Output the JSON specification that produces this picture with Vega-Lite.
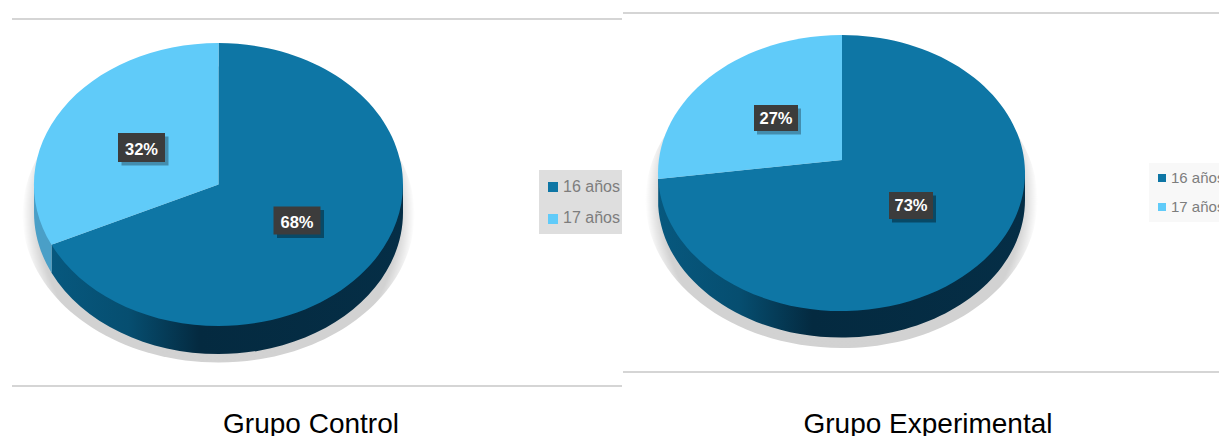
{
  "$schema": "https://vega.github.io/schema/vega-lite/v6.json",
  "width": 1219,
  "height": 436,
  "autosize": {"type": "fit", "contains": "padding"},
  "padding": 0,
  "background": "#ffffff",
  "view": {"stroke": null},
  "data": {"values": [
    {"grupo": "Grupo Control", "edad": "16 años", "pct": 0.68},
    {"grupo": "Grupo Control", "edad": "17 años", "pct": 0.32},
    {"grupo": "Grupo Experimental", "edad": "16 años", "pct": 0.73},
    {"grupo": "Grupo Experimental", "edad": "17 años", "pct": 0.27}
  ]},
  "layer": [
    {"transform": [{"filter": "datum.edad === '16 años'"}],
     "mark": {"type": "point", "filled": false, "stroke": "#d5d5d5", "strokeWidth": 2, "opacity": 1, "size": 4},
     "encoding": {
       "x": {"field": "grupo", "type": "nominal", "axis": null, "scale": {"type": "point", "padding": 0, "range": [12, 623]}},
       "y": {"field": "grupo", "type": "nominal", "axis": null, "scale": {"type": "point", "padding": 0, "range": [19, 13]}},
       "shape": {"field": "grupo", "type": "nominal", "legend": null, "scale": {"range": ["M0,0H610", "M0,0H596"]}}
     }},
    {"transform": [{"filter": "datum.edad === '16 años'"}],
     "mark": {"type": "point", "filled": false, "stroke": "#d5d5d5", "strokeWidth": 2, "opacity": 1, "size": 4},
     "encoding": {
       "x": {"field": "grupo", "type": "nominal", "axis": null, "scale": {"type": "point", "padding": 0, "range": [12, 623]}},
       "y": {"field": "grupo", "type": "nominal", "axis": null, "scale": {"type": "point", "padding": 0, "range": [386, 372]}},
       "shape": {"field": "grupo", "type": "nominal", "legend": null, "scale": {"range": ["M0,0H610", "M0,0H596"]}}
     }},
    {"transform": [{"filter": "datum.edad === '16 años'"}],
     "mark": {"type": "point", "filled": true, "opacity": 1, "size": 4, "fill": {"gradient": "radial", "x1": 0.5, "y1": 0.5, "r1": 0, "x2": 0.5, "y2": 0.5, "r2": 0.5, "stops": [{"offset": 0, "color": "#cfcfcf"}, {"offset": 0.92, "color": "#d2d2d2"}, {"offset": 0.96, "color": "#e8e8e8"}, {"offset": 1, "color": "#ffffff"}]}},
     "encoding": {
       "x": {"field": "grupo", "type": "nominal", "axis": null, "scale": {"type": "point", "padding": 0, "range": [218.5, 841.5]}},
       "y": {"field": "grupo", "type": "nominal", "axis": null, "scale": {"type": "point", "padding": 0, "range": [184.5, 173]}},
       "shape": {"field": "grupo", "type": "nominal", "legend": null, "scale": {"range": [
         "M-196,30A196 148 0 1 0 196,30A196 148 0 1 0 -196,30Z",
         "M-196,27A196 148 0 1 0 196,27A196 148 0 1 0 -196,27Z"
       ]}}
     }},
    {"transform": [{"filter": "datum.edad === '16 años'"}],
     "mark": {"type": "point", "filled": true, "opacity": 1, "size": 4, "fill": {"gradient": "linear", "x1": 0, "y1": 0, "x2": 1, "y2": 0, "stops": [{"offset": 0, "color": "#07587e"}, {"offset": 0.22, "color": "#064e70"}, {"offset": 0.42, "color": "#042a40"}, {"offset": 1, "color": "#052e46"}]}},
     "encoding": {
       "x": {"field": "grupo", "type": "nominal", "axis": null, "scale": {"type": "point", "padding": 0, "range": [218.5, 841.5]}},
       "y": {"field": "grupo", "type": "nominal", "axis": null, "scale": {"type": "point", "padding": 0, "range": [184.5, 173]}},
       "shape": {"field": "grupo", "type": "nominal", "legend": null, "scale": {"range": [
         "M-167,60.2L-167,88.2A184.5 141.5 0 0 0 184.5,28L184.5,0Z",
         "M-183.3,6L-183.3,33A183.5 138 0 0 0 183.5,27L183.5,0Z"
       ]}}
     }},
    {"transform": [{"filter": "datum.edad === '17 años' && datum.grupo === 'Grupo Control'"}],
     "mark": {"type": "point", "filled": true, "opacity": 1, "size": 4, "fill": "#4a9fc7", "shape": "M-184.5,0L-184.5,28A184.5 141.5 0 0 0 -167,88.2L-167,60.2Z"},
     "encoding": {
       "x": {"field": "grupo", "type": "nominal", "axis": null, "scale": {"type": "point", "padding": 0, "range": [218.5, 218.5]}},
       "y": {"field": "grupo", "type": "nominal", "axis": null, "scale": {"type": "point", "padding": 0, "range": [184.5, 184.5]}}
     }},
    {"transform": [{"filter": "datum.edad === '16 años'"}],
     "mark": {"type": "point", "filled": true, "opacity": 1, "size": 4, "fill": "#0e76a5"},
     "encoding": {
       "x": {"field": "grupo", "type": "nominal", "axis": null, "scale": {"type": "point", "padding": 0, "range": [218.5, 841.5]}},
       "y": {"field": "grupo", "type": "nominal", "axis": null, "scale": {"type": "point", "padding": 0, "range": [184.5, 173]}},
       "shape": {"field": "grupo", "type": "nominal", "legend": null, "scale": {"range": [
         "M0,0L0,-141.5A184.5 141.5 0 1 1 -167,60.2Z",
         "M0.5,-13L0.5,-138A183.5 138 0 1 1 -183.3,6Z"
       ]}}
     }},
    {"transform": [{"filter": "datum.edad === '17 años'"}],
     "mark": {"type": "point", "filled": true, "opacity": 1, "size": 4, "fill": "#60cbf9"},
     "encoding": {
       "x": {"field": "grupo", "type": "nominal", "axis": null, "scale": {"type": "point", "padding": 0, "range": [218.5, 841.5]}},
       "y": {"field": "grupo", "type": "nominal", "axis": null, "scale": {"type": "point", "padding": 0, "range": [184.5, 173]}},
       "shape": {"field": "grupo", "type": "nominal", "legend": null, "scale": {"range": [
         "M0,0L-167,60.2A184.5 141.5 0 0 1 0,-141.5Z",
         "M0.5,-13L-183.3,6A183.5 138 0 0 1 0.5,-138Z"
       ]}}
     }},
    {"transform": [{"filter": "datum.edad === '16 años'"}],
     "mark": {"type": "point", "filled": true, "opacity": 0.38, "size": 4, "fill": "#000000"},
     "encoding": {
       "x": {"field": "grupo", "type": "nominal", "axis": null, "scale": {"type": "point", "padding": 0, "range": [300.5, 914]}},
       "y": {"field": "grupo", "type": "nominal", "axis": null, "scale": {"type": "point", "padding": 0, "range": [224, 209]}},
       "shape": {"field": "grupo", "type": "nominal", "legend": null, "scale": {"range": ["M-23.5,-14H23.5V14H-23.5Z", "M-22,-13.5H22V13.5H-22Z"]}}
     }},
    {"transform": [{"filter": "datum.edad === '17 años'"}],
     "mark": {"type": "point", "filled": true, "opacity": 0.3, "size": 4, "fill": "#000000"},
     "encoding": {
       "x": {"field": "grupo", "type": "nominal", "axis": null, "scale": {"type": "point", "padding": 0, "range": [145, 779]}},
       "y": {"field": "grupo", "type": "nominal", "axis": null, "scale": {"type": "point", "padding": 0, "range": [151, 121.5]}},
       "shape": {"field": "grupo", "type": "nominal", "legend": null, "scale": {"range": ["M-23.5,-14.5H23.5V14.5H-23.5Z", "M-22,-13H22V13H-22Z"]}}
     }},
    {"transform": [{"filter": "datum.edad === '16 años'"}],
     "mark": {"type": "point", "filled": true, "opacity": 1, "size": 4, "fill": "#3c3c3c"},
     "encoding": {
       "x": {"field": "grupo", "type": "nominal", "axis": null, "scale": {"type": "point", "padding": 0, "range": [297, 911]}},
       "y": {"field": "grupo", "type": "nominal", "axis": null, "scale": {"type": "point", "padding": 0, "range": [220.5, 205.5]}},
       "shape": {"field": "grupo", "type": "nominal", "legend": null, "scale": {"range": ["M-23.5,-14H23.5V14H-23.5Z", "M-22,-13.5H22V13.5H-22Z"]}}
     }},
    {"transform": [{"filter": "datum.edad === '17 años'"}],
     "mark": {"type": "point", "filled": true, "opacity": 1, "size": 4, "fill": "#3c3c3c"},
     "encoding": {
       "x": {"field": "grupo", "type": "nominal", "axis": null, "scale": {"type": "point", "padding": 0, "range": [141.5, 776]}},
       "y": {"field": "grupo", "type": "nominal", "axis": null, "scale": {"type": "point", "padding": 0, "range": [147.5, 118]}},
       "shape": {"field": "grupo", "type": "nominal", "legend": null, "scale": {"range": ["M-23.5,-14.5H23.5V14.5H-23.5Z", "M-22,-13H22V13H-22Z"]}}
     }},
    {"transform": [{"filter": "datum.edad === '16 años'"}],
     "mark": {"type": "text", "font": "Liberation Sans", "fontWeight": "bold", "fontSize": 16.5, "fill": "#ffffff", "baseline": "middle", "align": "center"},
     "encoding": {
       "x": {"field": "grupo", "type": "nominal", "axis": null, "scale": {"type": "point", "padding": 0, "range": [297, 911]}},
       "y": {"field": "grupo", "type": "nominal", "axis": null, "scale": {"type": "point", "padding": 0, "range": [223, 206]}},
       "text": {"field": "pct", "type": "quantitative", "format": ".0%"}
     }},
    {"transform": [{"filter": "datum.edad === '17 años'"}],
     "mark": {"type": "text", "font": "Liberation Sans", "fontWeight": "bold", "fontSize": 16.5, "fill": "#ffffff", "baseline": "middle", "align": "center"},
     "encoding": {
       "x": {"field": "grupo", "type": "nominal", "axis": null, "scale": {"type": "point", "padding": 0, "range": [141.5, 776]}},
       "y": {"field": "grupo", "type": "nominal", "axis": null, "scale": {"type": "point", "padding": 0, "range": [150, 119]}},
       "text": {"field": "pct", "type": "quantitative", "format": ".0%"}
     }},
    {"transform": [{"filter": "datum.edad === '16 años'"}],
     "mark": {"type": "point", "filled": true, "opacity": 1, "size": 4},
     "encoding": {
       "x": {"field": "grupo", "type": "nominal", "axis": null, "scale": {"type": "point", "padding": 0, "range": [539, 1149]}},
       "y": {"field": "grupo", "type": "nominal", "axis": null, "scale": {"type": "point", "padding": 0, "range": [170, 163]}},
       "shape": {"field": "grupo", "type": "nominal", "legend": null, "scale": {"range": ["M0,0H83V64H0Z", "M0,0H70V59H0Z"]}},
       "fill": {"field": "grupo", "type": "nominal", "legend": null, "scale": {"range": ["#dedede", "#f8f8f8"]}}
     }},
    {"transform": [{"filter": "datum.edad === '16 años'"}],
     "mark": {"type": "point", "filled": true, "opacity": 1, "size": 4, "fill": "#0e76a5"},
     "encoding": {
       "x": {"field": "grupo", "type": "nominal", "axis": null, "scale": {"type": "point", "padding": 0, "range": [553, 1162]}},
       "y": {"field": "grupo", "type": "nominal", "axis": null, "scale": {"type": "point", "padding": 0, "range": [187, 178]}},
       "shape": {"field": "grupo", "type": "nominal", "legend": null, "scale": {"range": ["M-5,-5H5V5H-5Z", "M-4,-4H4V4H-4Z"]}}
     }},
    {"transform": [{"filter": "datum.edad === '17 años'"}],
     "mark": {"type": "point", "filled": true, "opacity": 1, "size": 4, "fill": "#60cbf9"},
     "encoding": {
       "x": {"field": "grupo", "type": "nominal", "axis": null, "scale": {"type": "point", "padding": 0, "range": [553, 1162]}},
       "y": {"field": "grupo", "type": "nominal", "axis": null, "scale": {"type": "point", "padding": 0, "range": [219, 207]}},
       "shape": {"field": "grupo", "type": "nominal", "legend": null, "scale": {"range": ["M-5,-5H5V5H-5Z", "M-4,-4H4V4H-4Z"]}}
     }},
    {"transform": [{"filter": "datum.edad === '16 años'"}],
     "mark": {"type": "text", "font": "Liberation Sans", "fill": "#7d7d7d", "baseline": "middle", "align": "left"},
     "encoding": {
       "x": {"field": "grupo", "type": "nominal", "axis": null, "scale": {"type": "point", "padding": 0, "range": [563, 1171]}},
       "y": {"field": "grupo", "type": "nominal", "axis": null, "scale": {"type": "point", "padding": 0, "range": [187, 177.5]}},
       "text": {"field": "edad", "type": "nominal"},
       "size": {"field": "grupo", "type": "ordinal", "legend": null, "scale": {"range": [16, 15]}}
     }},
    {"transform": [{"filter": "datum.edad === '17 años'"}],
     "mark": {"type": "text", "font": "Liberation Sans", "fill": "#7d7d7d", "baseline": "middle", "align": "left"},
     "encoding": {
       "x": {"field": "grupo", "type": "nominal", "axis": null, "scale": {"type": "point", "padding": 0, "range": [563, 1171]}},
       "y": {"field": "grupo", "type": "nominal", "axis": null, "scale": {"type": "point", "padding": 0, "range": [218, 206.5]}},
       "text": {"field": "edad", "type": "nominal"},
       "size": {"field": "grupo", "type": "ordinal", "legend": null, "scale": {"range": [16, 15]}}
     }},
    {"transform": [{"filter": "datum.edad === '16 años'"}],
     "mark": {"type": "text", "font": "Liberation Sans", "fontSize": 28, "fill": "#000000", "baseline": "alphabetic", "align": "center"},
     "encoding": {
       "x": {"field": "grupo", "type": "nominal", "axis": null, "scale": {"type": "point", "padding": 0, "range": [311, 928]}},
       "y": {"field": "grupo", "type": "nominal", "axis": null, "scale": {"type": "point", "padding": 0, "range": [433, 433]}},
       "text": {"field": "grupo", "type": "nominal"}
     }}
  ],
  "resolve": {"scale": {"x": "independent", "y": "independent", "shape": "independent", "fill": "independent", "size": "independent"}}
}
